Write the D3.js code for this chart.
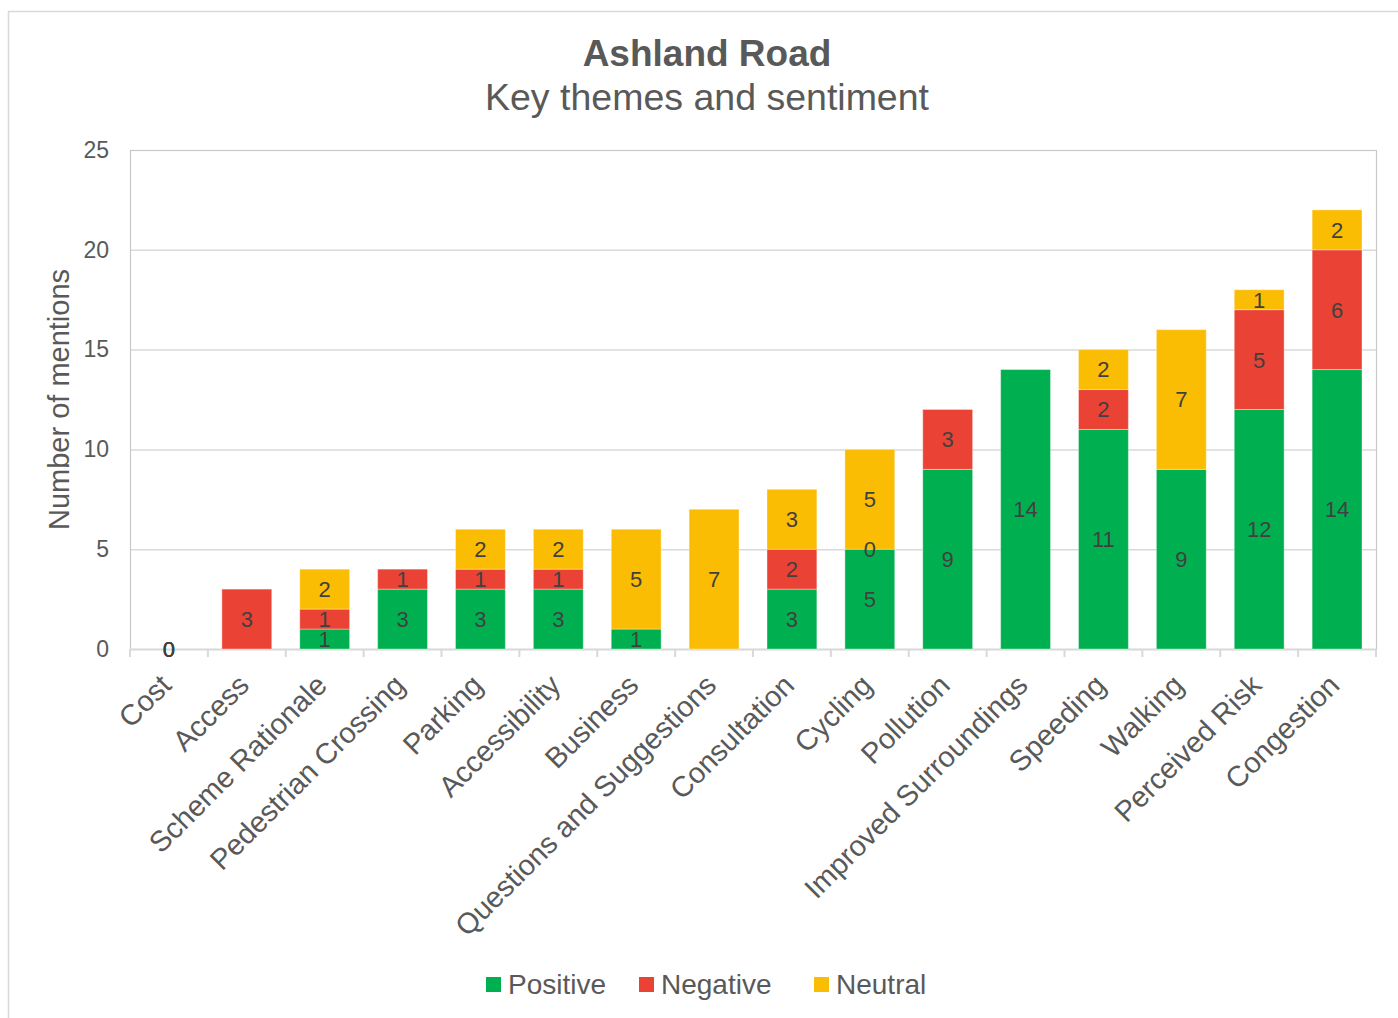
<!DOCTYPE html>
<html>
<head>
<meta charset="utf-8">
<script src="https://cdn.jsdelivr.net/npm/d3@7"></script>
<style>
  html, body { margin: 0; padding: 0; background: #fff; }
  svg { display: block; font-family: "Liberation Sans", Arial, sans-serif; }
</style>
</head>
<body>
<svg id="chart" width="1398" height="1018"></svg>
<script>
// Themes, in display order
const categories = [
  "Cost", "Access", "Scheme Rationale", "Pedestrian Crossing", "Parking",
  "Accessibility", "Business", "Questions and Suggestions", "Consultation",
  "Cycling", "Pollution", "Improved Surroundings", "Speeding", "Walking",
  "Perceived Risk", "Congestion"
];
// Mentions per sentiment (null = no entry)
const positive = [0, null, 1, 3, 3, 3, 1, null, 3, 5, 9, 14, 11, 9, 12, 14];
const negative = [0, 3, 1, 1, 1, 1, null, null, 2, 0, 3, null, 2, null, 5, 6];
const neutral  = [0, null, 2, null, 2, 2, 5, 7, 3, 5, null, null, 2, 7, 1, 2];

const seriesNames = ["Positive", "Negative", "Neutral"];
const seriesColors = ["#00b050", "#ea4335", "#fbbc04"];
const yTicks = [0, 5, 10, 15, 20, 25];

const svg = d3.select("#chart");
const textColor = "#595959";

const plot = { left: 130, right: 1376, top: 150, bottom: 649 };

// outer chart frame
svg.append("rect")
  .attr("x", 8.5).attr("y", 11.5)
  .attr("width", 1400).attr("height", 1020)
  .attr("fill", "none").attr("stroke", "#d9d9d9").attr("stroke-width", 1.5);

const x = d3.scaleBand()
  .domain(categories)
  .range([plot.left, plot.right])
  .paddingInner(0.36)
  .paddingOuter(0.18);

const y = d3.scaleLinear().domain([0, 25]).range([plot.bottom, plot.top]);

// gridlines
svg.append("g")
  .selectAll("line")
  .data(yTicks.filter(t => t > 0 && t < 25))
  .join("line")
  .attr("x1", plot.left).attr("x2", plot.right)
  .attr("y1", d => y(d) + 0.5).attr("y2", d => y(d) + 0.5)
  .attr("stroke", "#d9d9d9").attr("stroke-width", 1.5);

// plot border
svg.append("rect")
  .attr("x", plot.left + 0.5).attr("y", plot.top + 0.5)
  .attr("width", plot.right - plot.left).attr("height", plot.bottom - plot.top)
  .attr("fill", "none").attr("stroke", "#c8c8c8").attr("stroke-width", 1.2);

// y-axis labels
const yAxis = d3.axisLeft(y).tickValues(yTicks).tickSize(0).tickPadding(21);
const gy = svg.append("g").attr("transform", `translate(${plot.left},0)`).call(yAxis);
gy.select(".domain").remove();
gy.selectAll("text")
  .attr("fill", textColor)
  .style("font-size", "23px")
  .style("font-family", "'Liberation Sans', Arial, sans-serif");

// x baseline with tick marks at band boundaries
svg.append("line")
  .attr("x1", plot.left).attr("x2", plot.right)
  .attr("y1", plot.bottom + 0.5).attr("y2", plot.bottom + 0.5)
  .attr("stroke", "#d9d9d9").attr("stroke-width", 2);
const boundaries = d3.range(categories.length + 1).map(i => plot.left + i * (plot.right - plot.left) / categories.length);
svg.append("g")
  .selectAll("line")
  .data(boundaries)
  .join("line")
  .attr("x1", d => d).attr("x2", d => d)
  .attr("y1", plot.bottom).attr("y2", plot.bottom + 8)
  .attr("stroke", "#d9d9d9").attr("stroke-width", 2);

// stacked series
const rows = categories.map((c, i) => ({
  category: c,
  Positive: positive[i], Negative: negative[i], Neutral: neutral[i]
}));
const stack = d3.stack().keys(seriesNames).value((d, k) => d[k] == null ? 0 : d[k]);
const stacked = stack(rows);

const gBars = svg.append("g");
stacked.forEach((layer, si) => {
  gBars.append("g")
    .selectAll("rect")
    .data(layer.filter(d => d.data[layer.key] != null && d.data[layer.key] > 0))
    .join("rect")
    .attr("x", d => x(d.data.category))
    .attr("width", x.bandwidth())
    .attr("y", d => y(d[1]))
    .attr("height", d => y(d[0]) - y(d[1]))
    .attr("fill", seriesColors[si])
    .attr("stroke", "rgba(255,255,255,0.35)")
    .attr("stroke-width", 1);
});

// value labels at the centre of each segment
const gLabels = svg.append("g");
stacked.forEach(layer => {
  gLabels.append("g")
    .selectAll("text")
    .data(layer.filter(d => d.data[layer.key] != null))
    .join("text")
    .attr("x", d => x(d.data.category) + x.bandwidth() / 2)
    .attr("y", d => y((d[0] + d[1]) / 2))
    .attr("dy", "0.36em")
    .attr("text-anchor", "middle")
    .attr("fill", "#404040")
    .style("font-size", "22px")
    .text(d => d.data[layer.key]);
});

// category labels, rotated
svg.append("g")
  .selectAll("text")
  .data(categories)
  .join("text")
  .attr("transform", d => `translate(${x(d) + x.bandwidth() / 2 + 4},${plot.bottom + 38}) rotate(-45)`)
  .attr("text-anchor", "end")
  .attr("fill", textColor)
  .style("font-size", "29px")
  .text(d => d);

// axis title
svg.append("text")
  .attr("transform", `translate(${69},${(plot.top + plot.bottom) / 2}) rotate(-90)`)
  .attr("text-anchor", "middle")
  .attr("fill", textColor)
  .style("font-size", "29px")
  .text("Number of mentions");

// titles
svg.append("text")
  .attr("x", 707).attr("y", 66)
  .attr("text-anchor", "middle")
  .attr("fill", textColor)
  .style("font-size", "37px").style("font-weight", "bold")
  .text("Ashland Road");
svg.append("text")
  .attr("x", 707).attr("y", 110)
  .attr("text-anchor", "middle")
  .attr("fill", textColor)
  .style("font-size", "37.5px")
  .text("Key themes and sentiment");

// legend
const legendX = [486, 639, 814];
const legend = svg.append("g");
seriesNames.forEach((name, i) => {
  legend.append("rect")
    .attr("x", legendX[i]).attr("y", 977)
    .attr("width", 15).attr("height", 15)
    .attr("fill", seriesColors[i]);
  legend.append("text")
    .attr("x", legendX[i] + 22).attr("y", 994)
    .attr("fill", textColor)
    .style("font-size", "28px")
    .text(name);
});
</script>
</body>
</html>
